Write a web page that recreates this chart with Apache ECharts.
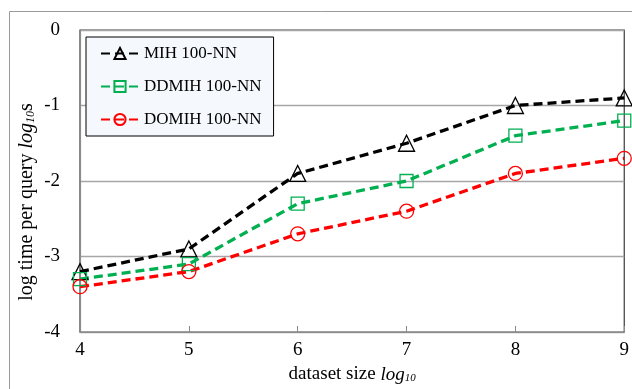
<!DOCTYPE html>
<html>
<head>
<meta charset="utf-8">
<script src="https://cdn.jsdelivr.net/npm/echarts@6/dist/echarts.min.js"></script>
<style>html,body{margin:0;padding:0;background:#fff}#c{width:632px;height:389px}</style>
</head>
<body>
<div id="c"></div>
<script>
const xValues = [4, 5, 6, 7, 8, 9];
const mih = [-3.2, -2.9, -1.9, -1.5, -1.0, -0.9];
const ddmih = [-3.3, -3.1, -2.3, -2.0, -1.4, -1.2];
const domih = [-3.4, -3.2, -2.7, -2.4, -1.9, -1.7];
const seriesNames = ['MIH 100-NN', 'DDMIH 100-NN', 'DOMIH 100-NN'];

const FONT = 'Liberation Serif';
const chart = echarts.init(document.getElementById('c'), null, {renderer: 'canvas'});

function pairs(arr) { return xValues.map((x, i) => [x, arr[i]]); }

function mk(name, data, color, symbol, size) {
  return {
    name: name, type: 'line', data: pairs(data),
    symbol: symbol, symbolSize: size,
    lineStyle: {color: color, width: 3.3, type: [9, 5]},
    itemStyle: {color: 'rgba(255,255,255,0)', borderColor: color, borderWidth: 1.3},
    emphasis: {disabled: true},
    z: 3
  };
}

chart.setOption({
  animation: false,
  backgroundColor: '#fff',
  graphic: [{
    type: 'rect', shape: {x: 9.5, y: 11.5, width: 700, height: 500},
    style: {fill: 'none', stroke: '#9a9a9a', lineWidth: 1}, z: -10
  }, {
    type: 'text', x: 27, y: 202, rotation: Math.PI / 2,
    style: {
      text: '{a|log time per query }{i|log}{s|10}{a|s}',
      align: 'center', verticalAlign: 'middle',
      rich: {
        a: {fontFamily: FONT, fontSize: 20, fill: '#000'},
        i: {fontFamily: FONT, fontSize: 20, fontStyle: 'italic', fill: '#000'},
        s: {fontFamily: FONT, fontSize: 12, fontStyle: 'italic', fill: '#000', padding: [8, 0, 0, 0]}
      }
    }
  }],
  grid: {left: 80, right: 6, top: 30, bottom: 52, show: true, borderColor: '#3a3a3a', borderWidth: 1.2, backgroundColor: '#fff'},
  legend: {
    left: 86, top: 37, orient: 'vertical',
    backgroundColor: '#f5f8fc', borderColor: '#000', borderWidth: 1,
    padding: [8, 12, 8, 14], itemGap: 16,
    itemWidth: 38, itemHeight: 14,
    textStyle: {fontFamily: FONT, fontSize: 17, color: '#000'},
    data: seriesNames
  },
  xAxis: {
    type: 'value', min: 4, max: 9, interval: 1,
    axisLine: {show: true, onZero: false, lineStyle: {color: '#8c8c8c', width: 1.2}},
    axisTick: {show: true, inside: true, length: 6, lineStyle: {color: '#8c8c8c'}},
    splitLine: {show: false},
    axisLabel: {fontFamily: FONT, fontSize: 19, color: '#000', margin: 9},
    name: '{a|dataset size }{i|log}{s|10}',
    nameLocation: 'middle', nameGap: 33,
    nameTextStyle: {
      rich: {
        a: {fontFamily: FONT, fontSize: 19, color: '#000'},
        i: {fontFamily: FONT, fontSize: 19, fontStyle: 'italic', color: '#000'},
        s: {fontFamily: FONT, fontSize: 11, fontStyle: 'italic', color: '#000', padding: [7, 0, 0, 0]}
      }
    }
  },
  yAxis: {
    type: 'value', min: -4, max: 0, interval: 1,
    axisLine: {show: true, onZero: false, lineStyle: {color: '#8c8c8c', width: 1.2}},
    axisTick: {show: false},
    splitLine: {show: true, lineStyle: {color: '#a6a6a6', width: 1.3}},
    axisLabel: {fontFamily: FONT, fontSize: 19, color: '#000', margin: 20}
  },
  series: [
    mk(seriesNames[0], mih, '#000000', 'triangle', 16),
    mk(seriesNames[1], ddmih, '#00b050', 'rect', 13),
    mk(seriesNames[2], domih, '#ff0000', 'circle', 14)
  ]
});
</script>
</body>
</html>
